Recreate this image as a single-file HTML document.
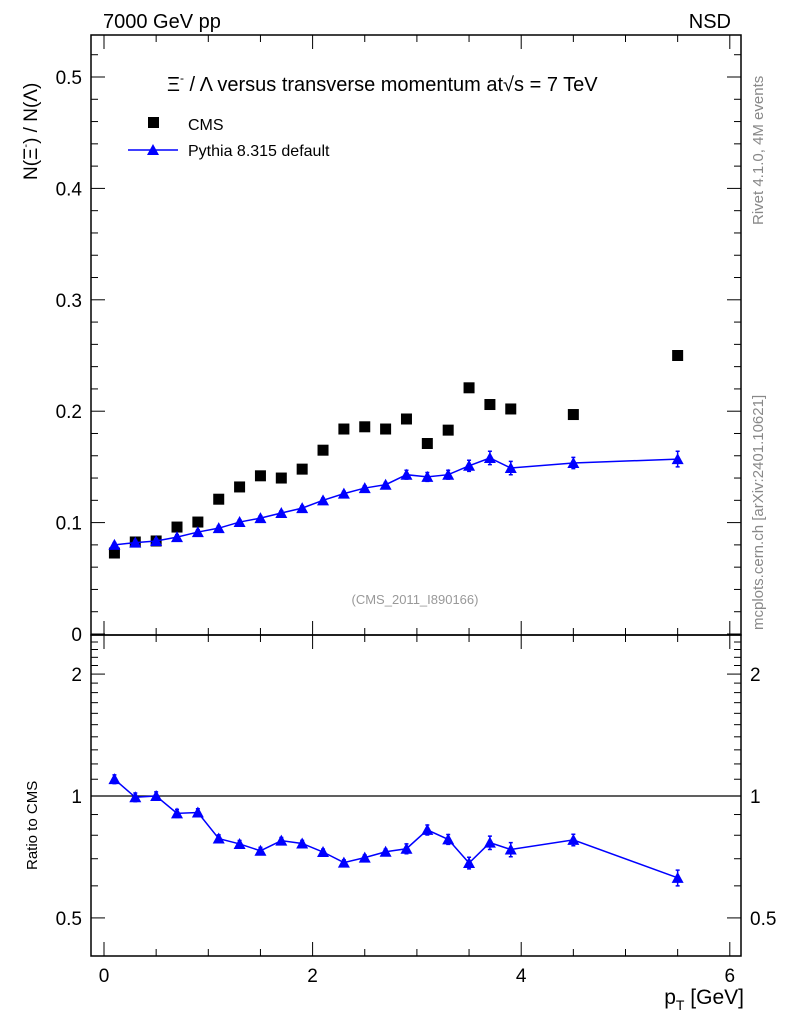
<!DOCTYPE html>
<html><head><meta charset="utf-8"><style>
body{margin:0;background:#fff;}
svg{font-family:"Liberation Sans",sans-serif;}
</style></head><body>
<svg id="c" width="786" height="1024" xmlns="http://www.w3.org/2000/svg">
<text x="103" y="28" font-size="20">7000 GeV pp</text>
<text x="731" y="28" font-size="20" text-anchor="end">NSD</text>
<text x="167" y="91" font-size="20">Ξ<tspan font-size="12" dy="-9">-</tspan><tspan dy="9"> / Λ versus transverse momentum at</tspan><tspan>√s = 7 TeV</tspan></text>
<text transform="translate(763,225) rotate(-90)" font-size="15" fill="#888">Rivet 4.1.0,  4M events</text>
<text transform="translate(763,630) rotate(-90)" font-size="15" fill="#888">mcplots.cern.ch [arXiv:2401.10621]</text>
<text x="415" y="604" font-size="13" fill="#999" text-anchor="middle">(CMS_2011_I890166)</text>
<text transform="translate(37,180) rotate(-90)" font-size="19">N(Ξ<tspan font-size="11" dy="-8">-</tspan><tspan dy="8">)  /  N(Λ)</tspan></text>
<text transform="translate(37,870) rotate(-90)" font-size="15">Ratio to CMS</text>
<text x="744" y="1004" font-size="21" text-anchor="end">p<tspan font-size="14" dy="6">T</tspan><tspan dy="-6"> [GeV]</tspan></text>
<rect x="148" y="117" width="11" height="11" fill="#000"/>
<text x="188" y="130" font-size="16">CMS</text>
<line x1="128" y1="150" x2="178" y2="150" stroke="#00f" stroke-width="1.5"/>
<path d="M147,155 L153,144 L159,155Z" fill="#00f"/>
<text x="188" y="156" font-size="16">Pythia 8.315 default</text>
<g id="g"></g>
</svg>
<script>
const xs=[0.1,0.3,0.5,0.7,0.9,1.1,1.3,1.5,1.7,1.9,2.1,2.3,2.5,2.7,2.9,3.1,3.3,3.5,3.7,3.9,4.5,5.5];
const cms=[0.0727,0.0826,0.0835,0.096,0.1005,0.121,0.132,0.142,0.140,0.148,0.165,0.184,0.186,0.184,0.193,0.171,0.183,0.221,0.206,0.202,0.197,0.250];
const pythia=[0.080,0.082,0.0835,0.087,0.0915,0.095,0.1005,0.104,0.1086,0.113,0.120,0.126,0.131,0.134,0.143,0.141,0.143,0.151,0.158,0.149,0.1535,0.157];
const pyErr=[0.002,0.002,0.002,0.002,0.002,0.002,0.002,0.002,0.002,0.002,0.002,0.002,0.002,0.002,0.004,0.004,0.004,0.005,0.006,0.006,0.005,0.007];
const yTicks=[0,0.1,0.2,0.3,0.4,0.5];
const rTicks=[0.5,1,2];
const xTicks=[0,2,4,6];
const NS="http://www.w3.org/2000/svg";
const g=document.getElementById('g');
const L=91,R=741,T=35,M=635,B=956;
const X=v=>104+v*104.3;
const Y=v=>634-v*1114;
const RY=v=>796-Math.log10(v)*405;
function mk(t,a){const e=document.createElementNS(NS,t);for(const k in a)e.setAttribute(k,a[k]);g.appendChild(e);return e;}
let e;
e=mk('rect',{x:L,y:T,width:R-L,height:M-T,fill:'none',stroke:'#000','stroke-width':1.5});

e=mk('rect',{x:L,y:M,width:R-L,height:B-M,fill:'none',stroke:'#000','stroke-width':1.5});

// y ticks main
for(let v=0;v<=0.54;v+=0.02){const y=Y(v);if(y<T)break;const maj=Math.abs(v*10-Math.round(v*10))<1e-6;const l=maj?14:7;
 e=mk('line',{x1:L,x2:L+l,y1:y,y2:y,stroke:'#000','stroke-width':1});
 e=mk('line',{x1:R,x2:R-l,y1:y,y2:y,stroke:'#000','stroke-width':1});}
yTicks.forEach(v=>{e=mk('text',{x:82,y:Y(v)+7,'font-size':19,'text-anchor':'end'});e.textContent=v===0?'0':v.toFixed(1);
 });
// ratio ticks
const rmin=[0.5,0.6,0.7,0.8,0.9,1,1.1,1.2,1.3,1.4,1.5,1.6,1.7,1.8,1.9,2,2.1,2.2,2.3,2.4,2.5];
rmin.forEach(v=>{const y=RY(v);if(y<M+2)return;const maj=rTicks.includes(v);const l=maj?14:7;
 e=mk('line',{x1:L,x2:L+l,y1:y,y2:y,stroke:'#000'});
 e=mk('line',{x1:R,x2:R-l,y1:y,y2:y,stroke:'#000'});});
rTicks.forEach(v=>{const t=v===0.5?'0.5':String(v);
 e=mk('text',{x:82,y:RY(v)+7,'font-size':19,'text-anchor':'end'});e.textContent=t;
 e=mk('text',{x:750,y:RY(v)+7,'font-size':19});e.textContent=t;});
// x ticks
for(let v=0;v<=6;v+=0.5){const x=X(v);const maj=v%2===0;const l=maj?14:7;
 [[M,-1],[B,-1],[T,1],[M,1]].forEach(([y0,d])=>{e=mk('line',{x1:x,x2:x,y1:y0,y2:y0+d*l,stroke:'#000'});});}
xTicks.forEach(v=>{e=mk('text',{x:X(v),y:982,'font-size':19,'text-anchor':'middle'});e.textContent=v;});
e=mk('line',{x1:L,x2:R,y1:RY(1),y2:RY(1),stroke:'#000','stroke-width':1.2});
// CMS points
cms.forEach((v,i)=>{e=mk('rect',{x:X(xs[i])-5.5,y:Y(v)-5.5,width:11,height:11,fill:'#000'});});
// pythia
e=mk('polyline',{points:xs.map((x,i)=>X(x)+','+Y(pythia[i])).join(' '),fill:'none',stroke:'#00f','stroke-width':1.5});

const ratio=pythia.map((p,i)=>p/cms[i]);
e=mk('polyline',{points:xs.map((x,i)=>X(x)+','+RY(ratio[i])).join(' '),fill:'none',stroke:'#00f','stroke-width':1.5});

function tri(x,y,n){e=mk('path',{d:`M${x-6},${y+5} L${x},${y-6} L${x+6},${y+5}Z`,fill:'#00f'});}
xs.forEach((x,i)=>{const px=X(x);
 const y1=Y(pythia[i]+pyErr[i]),y2=Y(pythia[i]-pyErr[i]);
 e=mk('path',{d:`M${px},${y1}V${y2}M${px-2},${y1}H${px+2}M${px-2},${y2}H${px+2}`,stroke:'#00f','stroke-width':1.5});
 tri(px,Y(pythia[i]),'pythia-point');
 const r=ratio[i],re=pyErr[i]/cms[i];
 const r1=RY(r+re),r2=RY(r-re);
 e=mk('path',{d:`M${px},${r1}V${r2}M${px-2},${r1}H${px+2}M${px-2},${r2}H${px+2}`,stroke:'#00f','stroke-width':1.5});
 tri(px,RY(r),'ratio-point');});
</script>
</body></html>
